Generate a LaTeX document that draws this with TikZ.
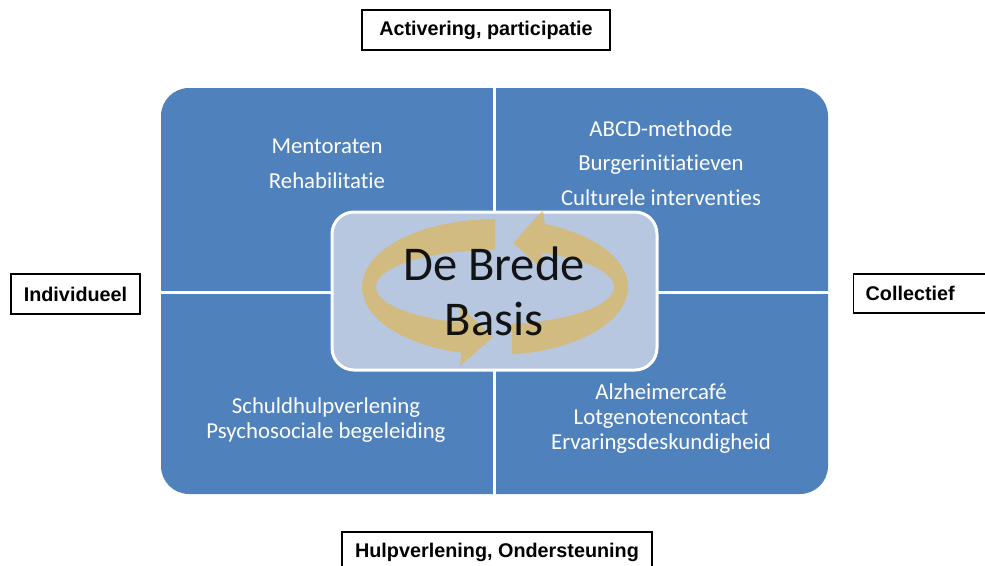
\documentclass[tikz,border=0pt]{standalone}
\usepackage{fontspec}
\setmainfont[Ligatures=NoCommon]{Carlito}
\newfontfamily\labelfont{Liberation Sans}
\definecolor{qblue}{RGB}{79,129,189}
\definecolor{cfill}{RGB}{184,199,224}
\definecolor{ribbon}{RGB}{226,180,64}
\begin{document}
\begin{tikzpicture}[x=1pt,y=-1pt,
  labelbox/.style={draw=black, line width=1.3pt, fill=white, inner sep=0pt,
    font=\labelfont\bfseries\fontsize{19.8}{23}\selectfont},
  qtext/.style={text=white, align=center},
  arrowfill/.style={fill=ribbon, fill opacity=0.6}]
\useasboundingbox (0,0) rectangle (985,565);
\clip (0,0) rectangle (985,565);
\fill[white] (0,0) rectangle (985,565);
% quadrants
\fill[qblue, rounded corners=28pt] (161,88) rectangle (828,494);
\draw[white, line width=3pt] (494,88) -- (494,494);
\draw[white, line width=3pt] (161,292) -- (828,292);
% quadrant texts
\node[qtext, font=\fontsize{22.8}{35}\selectfont] (tl) at (327,164) {Mentoraten\\Rehabilitatie};
\node[qtext, font=\fontsize{22.8}{34.5}\selectfont] (tr) at (661,163) {ABCD-methode\\Burgerinitiatieven\\Culturele interventies};
\node[qtext, font=\fontsize{22.8}{25}\selectfont] (bl) at (326,420) {Schuldhulpverlening\\Psychosociale begeleiding};
\node[qtext, font=\fontsize{22.8}{25}\selectfont] (br) at (661,419) {Alzheimercafé\\Lotgenotencontact\\Ervaringsdeskundigheid};
% centre
\node[draw=white, line width=3pt, fill=cfill, rounded corners=22pt,
  minimum width=325pt, minimum height=158pt, inner sep=0pt] (centre) at (494.5,291) {};
% ribbon arrows
\path[arrowfill] plot[domain=90:255.3, samples=40] ({495+133*cos(\x)},{287-68*sin(\x)})
  -- (460,366) -- (493,337) -- (460,306)
  -- plot[domain=252.9:90, samples=40] ({495+119*cos(\x)},{287-37*sin(\x)}) -- cycle;
\path[arrowfill] plot[domain=-82.7:68, samples=50] ({495+133*cos(\x)},{287-68*sin(\x)})
  -- (543,210) -- (513,243) -- (542,269)
  -- plot[domain=66.7:-81.8, samples=50] ({495+119*cos(\x)},{287-37*sin(\x)}) -- cycle;
\node[align=center, text=black, text opacity=0.9, font=\fontsize{48.5}{55}\selectfont] (title) at (494,291) {De Brede\\Basis};
% axis labels
\node[labelbox, minimum width=248pt, minimum height=40pt] (top) at (486,30) {Activering, participatie};
\node[labelbox, minimum width=129pt, minimum height=40pt] (left) at (75.5,294) {Individueel};
\node[labelbox, anchor=west, inner xsep=12pt, text width=123pt, align=left, minimum height=39pt] (right) at (853,293.5) {Collectief};
\node[labelbox, minimum width=310pt, minimum height=40pt] (bottom) at (497,552) {Hulpverlening, Ondersteuning};
\end{tikzpicture}
\end{document}
